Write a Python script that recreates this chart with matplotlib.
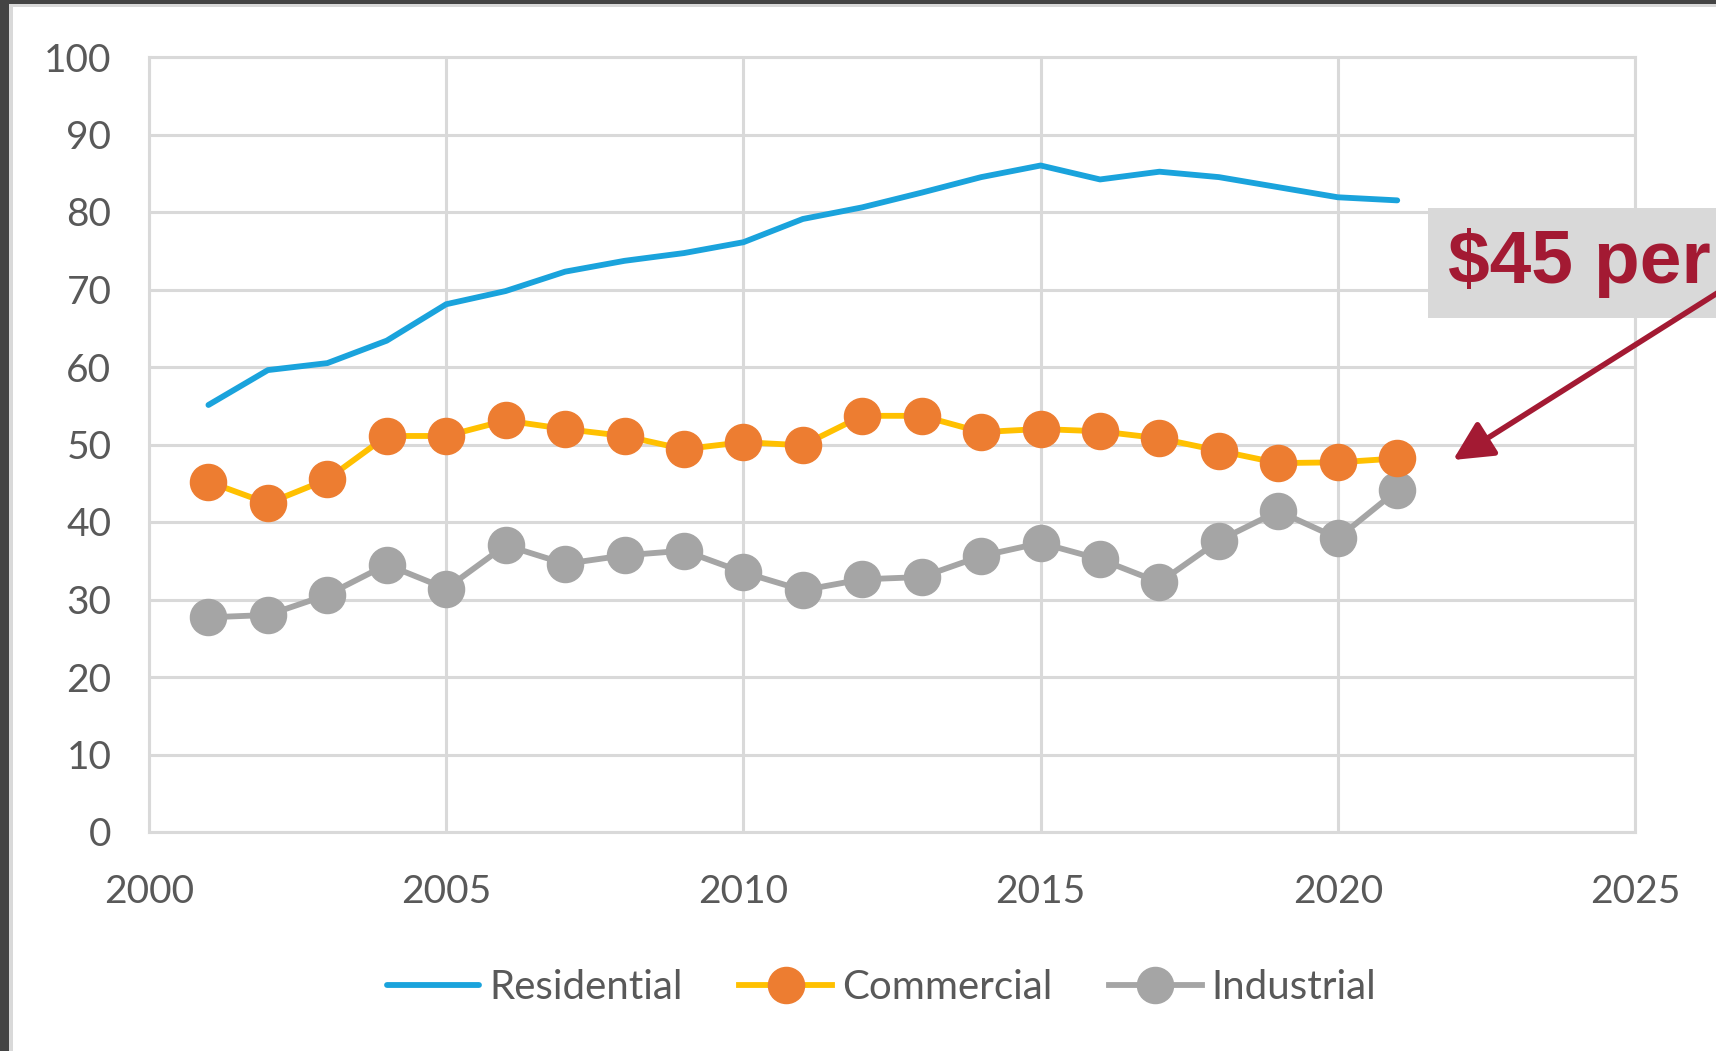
import matplotlib.pyplot as plt
import matplotlib as mpl
from matplotlib.patches import Rectangle, FancyArrowPatch

mpl.rcParams['font.family'] = ['Lato', 'DejaVu Sans']

# Data
years = list(range(2001, 2022))
residential = [55.1, 59.6, 60.5, 63.4, 68.1, 69.8, 72.3, 73.7, 74.7, 76.1, 79.1,
               80.6, 82.5, 84.5, 86.0, 84.2, 85.2, 84.5, 83.2, 81.9, 81.5]
commercial = [45.2, 42.4, 45.5, 51.1, 51.1, 53.1, 52.0, 51.1, 49.4, 50.3, 49.9,
              53.7, 53.7, 51.6, 52.0, 51.7, 50.8, 49.2, 47.6, 47.7, 48.2]
industrial = [27.7, 28.0, 30.6, 34.5, 31.4, 37.0, 34.6, 35.7, 36.3, 33.5, 31.2,
              32.6, 32.9, 35.6, 37.3, 35.2, 32.2, 37.6, 41.4, 37.9, 44.1]
x_ticks = [2000, 2005, 2010, 2015, 2020, 2025]
y_ticks = list(range(0, 101, 10))
note_text = '$45 per'

W, H = 1716, 1051
fig = plt.figure(figsize=(W / 100, H / 100), dpi=100)
fig.patch.set_facecolor('white')

# Frame of the screenshot (dark border left/top)
fig.patches.append(Rectangle((0, 0), 9 / W, 1, transform=fig.transFigure,
                             facecolor='#444444', edgecolor='none', zorder=0))
fig.patches.append(Rectangle((0, 1 - 4 / H), 1, 4 / H, transform=fig.transFigure,
                             facecolor='#444444', edgecolor='none', zorder=0))
fig.patches.append(Rectangle((9 / W, 0), 4 / W, 1 - 4 / H, transform=fig.transFigure,
                             facecolor='#d9d9d9', edgecolor='none', zorder=0))
fig.patches.append(Rectangle((9 / W, 1 - 7 / H), 1, 3 / H, transform=fig.transFigure,
                             facecolor='#d9d9d9', edgecolor='none', zorder=0))

ax = fig.add_axes([149 / W, 1 - 832 / H, (1635 - 149) / W, (832 - 57) / H])

ax.plot(years, residential, color='#1aa3dc', linewidth=4.2,
        solid_capstyle='round', solid_joinstyle='round', label='Residential', zorder=3)
ax.plot(years, commercial, color='#ffc000', linewidth=4.2, marker='o',
        markersize=26, markerfacecolor='#ed7d31', markeredgecolor='#ed7d31',
        label='Commercial', zorder=4)
ax.plot(years, industrial, color='#a5a5a5', linewidth=4.2, marker='o',
        markersize=26, markerfacecolor='#a5a5a5', markeredgecolor='#a5a5a5',
        label='Industrial', zorder=3)

ax.set_xlim(2000, 2025)
ax.set_ylim(0, 100)
ax.set_xticks(x_ticks)
ax.set_yticks(y_ticks)
ax.grid(True, color='#d9d9d9', linewidth=2.2)
ax.set_axisbelow(True)
for s in ax.spines.values():
    s.set_color('#d9d9d9')
    s.set_linewidth(2.2)
ax.tick_params(length=0, labelsize=28, colors='#595959')
ax.tick_params(axis='y', pad=27)
ax.tick_params(axis='x', pad=30)

leg = ax.legend(loc='upper center', bbox_to_anchor=(0.493, -0.13), ncol=3,
                frameon=False, fontsize=29, handlelength=2.3, handletextpad=0.25,
                columnspacing=1.4, labelcolor='#595959')

# Annotation box and arrow
fig.patches.append(Rectangle((1428 / W, 1 - 318 / H), 400 / W, 110 / H,
                             transform=fig.transFigure, facecolor='#d9d9d9',
                             edgecolor='none', zorder=5))
fig.text(1448 / W, 1 - 263 / H, note_text, fontsize=54, fontweight='bold',
         color='#a31a33', family=['Liberation Sans', 'DejaVu Sans'],
         va='center', ha='left', zorder=6)
arrow = FancyArrowPatch((1730 / W, 1 - 285 / H), (1453 / W, 1 - 460 / H),
                        transform=fig.transFigure,
                        arrowstyle='-|>,head_length=1.2,head_width=0.6',
                        color='#a31a33', linewidth=4, shrinkA=0, shrinkB=0,
                        mutation_scale=20, zorder=7)
fig.patches.append(arrow)

fig.savefig('out.png', dpi=100)
